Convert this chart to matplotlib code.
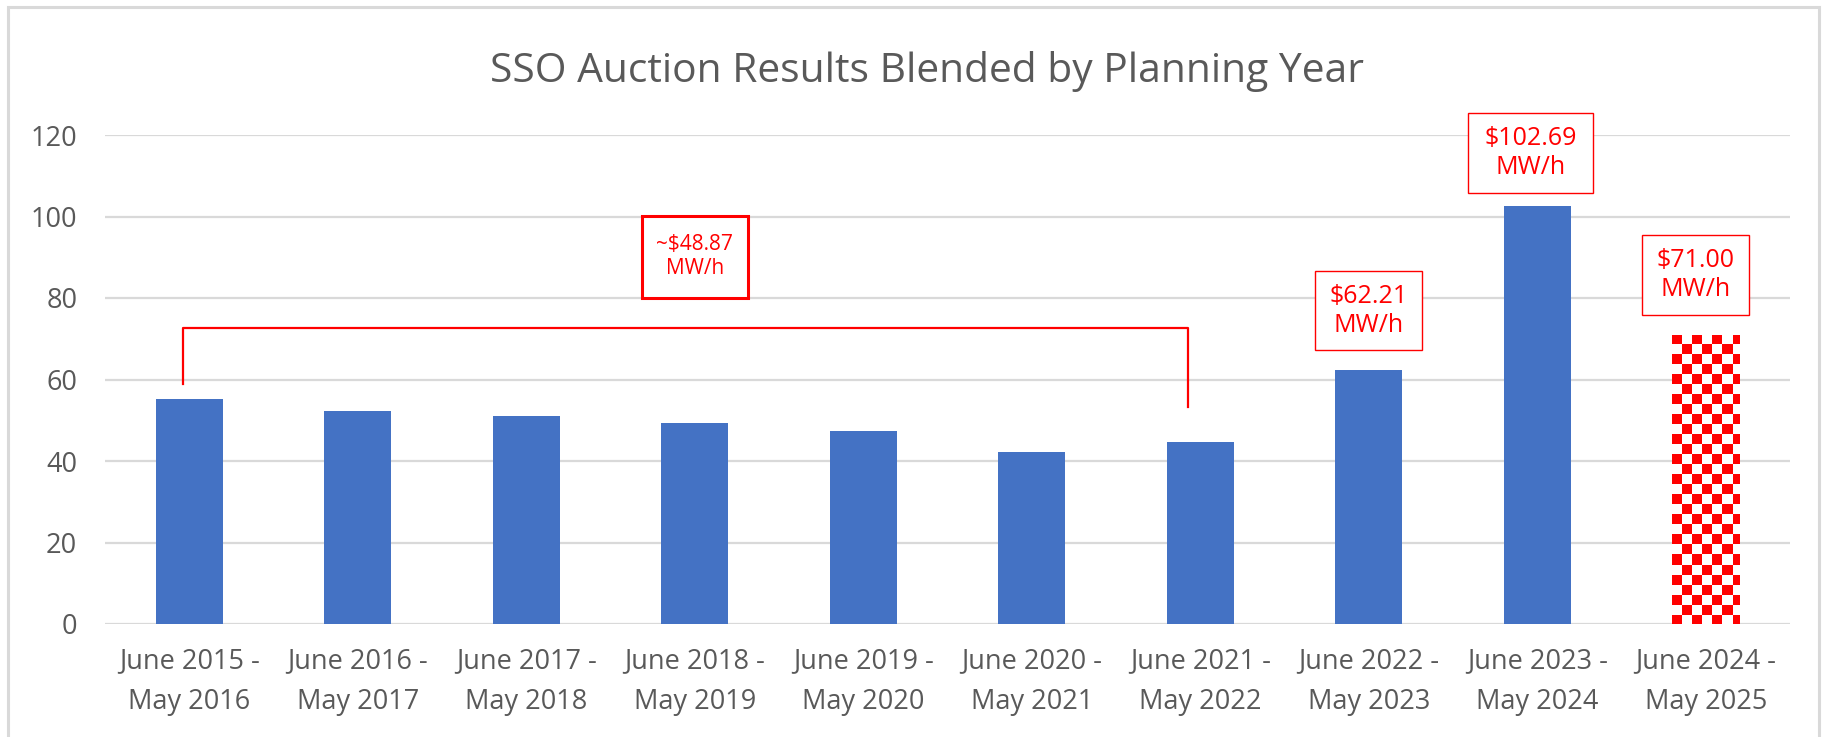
import numpy as np
import matplotlib
matplotlib.use("Agg")
import matplotlib.pyplot as plt
from matplotlib.colors import ListedColormap
from matplotlib.patches import Rectangle

plt.rcParams['font.family'] = ['Open Sans', 'DejaVu Sans']

# data
periods = ["June 2015 -\nMay 2016", "June 2016 -\nMay 2017", "June 2017 -\nMay 2018",
           "June 2018 -\nMay 2019", "June 2019 -\nMay 2020", "June 2020 -\nMay 2021",
           "June 2021 -\nMay 2022", "June 2022 -\nMay 2023", "June 2023 -\nMay 2024",
           "June 2024 -\nMay 2025"]
prices = [55.1, 52.3, 51.1, 49.4, 47.4, 42.3, 44.6, 62.21, 102.69, 71.00]
is_estimate = [False] * 9 + [True]
yticks = [0, 20, 40, 60, 80, 100, 120]

# callouts: centre x, centre y, box width, box height, text, fontsize, border width
callout_x = [3.0, 7.0, 7.96, 8.94]
callout_y = [90.1, 76.9, 115.6, 85.6]
callout_w = [0.63, 0.635, 0.74, 0.635]
callout_h = [20.1, 19.4, 19.6, 19.6]
callout_txt = ["~$48.87\nMW/h", "$62.21\nMW/h", "$102.69\nMW/h", "$71.00\nMW/h"]
callout_fs = [15, 18, 18, 18]
callout_lw = [2.2, 1.0, 1.0, 1.0]

bracket_x = [-0.04, -0.04, 5.93, 5.93]
bracket_y = [58.9, 72.6, 72.6, 53.3]

BLUE = "#4472C4"
RED = "#FF0000"
GRAY = "#595959"
GRID = "#D9D9D9"

W, H = 1828, 737
fig = plt.figure(figsize=(W / 100, H / 100), dpi=100)
ax = fig.add_axes([105 / W, 1 - 624 / H, (1790 - 105) / W, (624 - 135) / H])

x = np.arange(len(periods))
bars = ax.bar(x, prices, width=0.40, color=[("white" if e else BLUE) for e in is_estimate],
              zorder=3)

ax.set_xlim(-0.5, len(periods) - 0.5)
ax.set_ylim(0, 120)
ax.set_yticks(yticks)
ax.set_xticks(x)
ax.set_xticklabels(periods, linespacing=1.6)
ax.tick_params(axis='both', length=0, labelsize=19.5, labelcolor=GRAY)
ax.tick_params(axis='y', pad=20)
ax.tick_params(axis='x', pad=17)
ax.grid(axis='y', color=GRID, linewidth=1.6, zorder=0)
ax.set_axisbelow(True)
for s in ax.spines.values():
    s.set_visible(False)

# checkered fill for the estimated bar
fig.canvas.draw()
cell = 10.0
for b, e in zip(bars, is_estimate):
    if not e:
        continue
    x0 = b.get_x()
    top = b.get_height()
    (px0, py0) = ax.transData.transform((x0, 0))
    (px1, py1) = ax.transData.transform((x0 + b.get_width(), top))
    nc = int(np.ceil((px1 - px0) / cell))
    nr = int(np.ceil((py1 - py0) / cell))
    board = (np.add.outer(np.arange(nr), np.arange(nc)) % 2 == 0).astype(int)
    dx = b.get_width() * cell / (px1 - px0)
    dy = top * cell / (py1 - py0)
    im = ax.imshow(board, cmap=ListedColormap(["white", RED]), interpolation="nearest",
                   extent=(x0, x0 + nc * dx, top - nr * dy, top), aspect="auto", zorder=4)
    im.set_clip_path(b)
ax.set_xlim(-0.5, len(periods) - 0.5)
ax.set_ylim(0, 120)

# bracket over the 2015-2022 bars
ax.plot(bracket_x, bracket_y, color=RED, linewidth=1.6, clip_on=False, zorder=5)

for cx, cy, bw, bh, txt, fs, lw in zip(callout_x, callout_y, callout_w, callout_h,
                                        callout_txt, callout_fs, callout_lw):
    ax.add_patch(Rectangle((cx - bw / 2, cy - bh / 2), bw, bh, facecolor="white",
                           edgecolor=RED, linewidth=lw, clip_on=False, zorder=6))
    ax.text(cx, cy, txt, ha="center", va="center", fontsize=fs, color=RED,
            linespacing=1.2, clip_on=False, zorder=7)

fig.text(927 / W, 1 - 72 / H, "SSO Auction Results Blended by Planning Year",
         ha="center", va="center", fontsize=29.3, color=GRAY)

# outer chart frame
fig.patches.append(Rectangle((8 / W, -0.01), (1819 - 8) / W, 1.01 - 7 / H,
                             transform=fig.transFigure, fill=False, edgecolor=GRID,
                             linewidth=2.2))

fig.savefig("out.png", dpi=100)
